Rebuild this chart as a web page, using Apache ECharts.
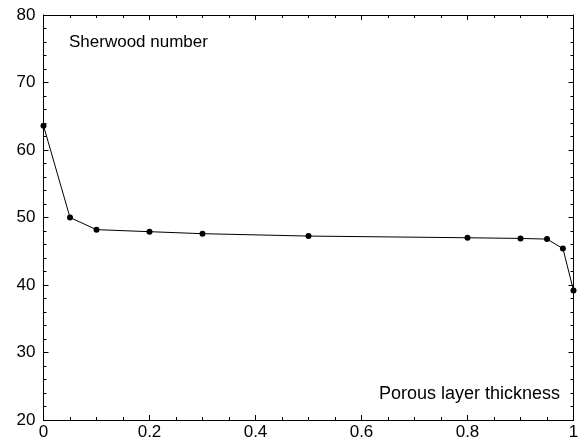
<!DOCTYPE html>
<html>
<head>
<meta charset="utf-8">
<script src="https://cdn.jsdelivr.net/npm/echarts@6/dist/echarts.min.js"></script>
<style>
  html, body { margin: 0; padding: 0; background: #fff; }
  #chart { width: 584px; height: 442px; }
</style>
</head>
<body>
<div id="chart"></div>
<script>
// porous layer thickness vs Sherwood number
var thickness = [0, 0.05, 0.1, 0.2, 0.3, 0.5, 0.8, 0.9, 0.95, 0.98, 1.0];
var sherwood = [63.6, 50.0, 48.2, 47.9, 47.6, 47.25, 47.0, 46.9, 46.8, 45.4, 39.2];
var xTicks = [0, 0.2, 0.4, 0.6, 0.8, 1];
var yTicks = [20, 30, 40, 50, 60, 70, 80];

var FONT = '"Liberation Sans", Arial, Helvetica, sans-serif';

function axisX(pos, showLabel) {
    return {
        type: 'value',
        position: pos,
        min: xTicks[0],
        max: xTicks[xTicks.length - 1],
        interval: 0.2,
        axisLine: { show: true, onZero: false, lineStyle: { color: '#000', width: 1 } },
        axisTick: { show: true, inside: true, length: 5, lineStyle: { color: '#000' } },
        minorTick: { show: true, splitNumber: 4, length: 3, lineStyle: { color: '#000' } },
        splitLine: { show: false },
        axisLabel: { show: showLabel, color: '#000', fontSize: 17, fontFamily: FONT, margin: 4 }
    };
}

function axisY(pos, showLabel) {
    return {
        type: 'value',
        position: pos,
        min: yTicks[0],
        max: yTicks[yTicks.length - 1],
        interval: 10,
        axisLine: { show: true, onZero: false, lineStyle: { color: '#000', width: 1 } },
        axisTick: { show: true, inside: true, length: 5, lineStyle: { color: '#000' } },
        minorTick: { show: true, splitNumber: 5, length: 3, lineStyle: { color: '#000' } },
        splitLine: { show: false },
        axisLabel: { show: showLabel, color: '#000', fontSize: 17, fontFamily: FONT, margin: 8 }
    };
}

var chart = echarts.init(document.getElementById('chart'));
chart.setOption({
    animation: false,
    backgroundColor: '#fff',
    grid: { left: 43.5, right: 10.5, top: 15, bottom: 22 },
    xAxis: [axisX('bottom', true), axisX('top', false)],
    yAxis: [axisY('left', true), axisY('right', false)],
    graphic: [
        {
            type: 'text', left: 69, top: 34,
            style: { text: 'Sherwood number', fill: '#000', font: '17px ' + FONT }
        },
        {
            type: 'text', right: 24, top: 385,
            style: { text: 'Porous layer thickness', fill: '#000', font: '18px ' + FONT }
        }
    ],
    series: [{
        type: 'line',
        xAxisIndex: 0,
        yAxisIndex: 0,
        data: thickness.map(function (x, i) { return [x, sherwood[i]]; }),
        symbol: 'circle',
        symbolSize: 6,
        itemStyle: { color: '#000' },
        lineStyle: { color: '#000', width: 1 }
    }]
});
</script>
</body>
</html>
